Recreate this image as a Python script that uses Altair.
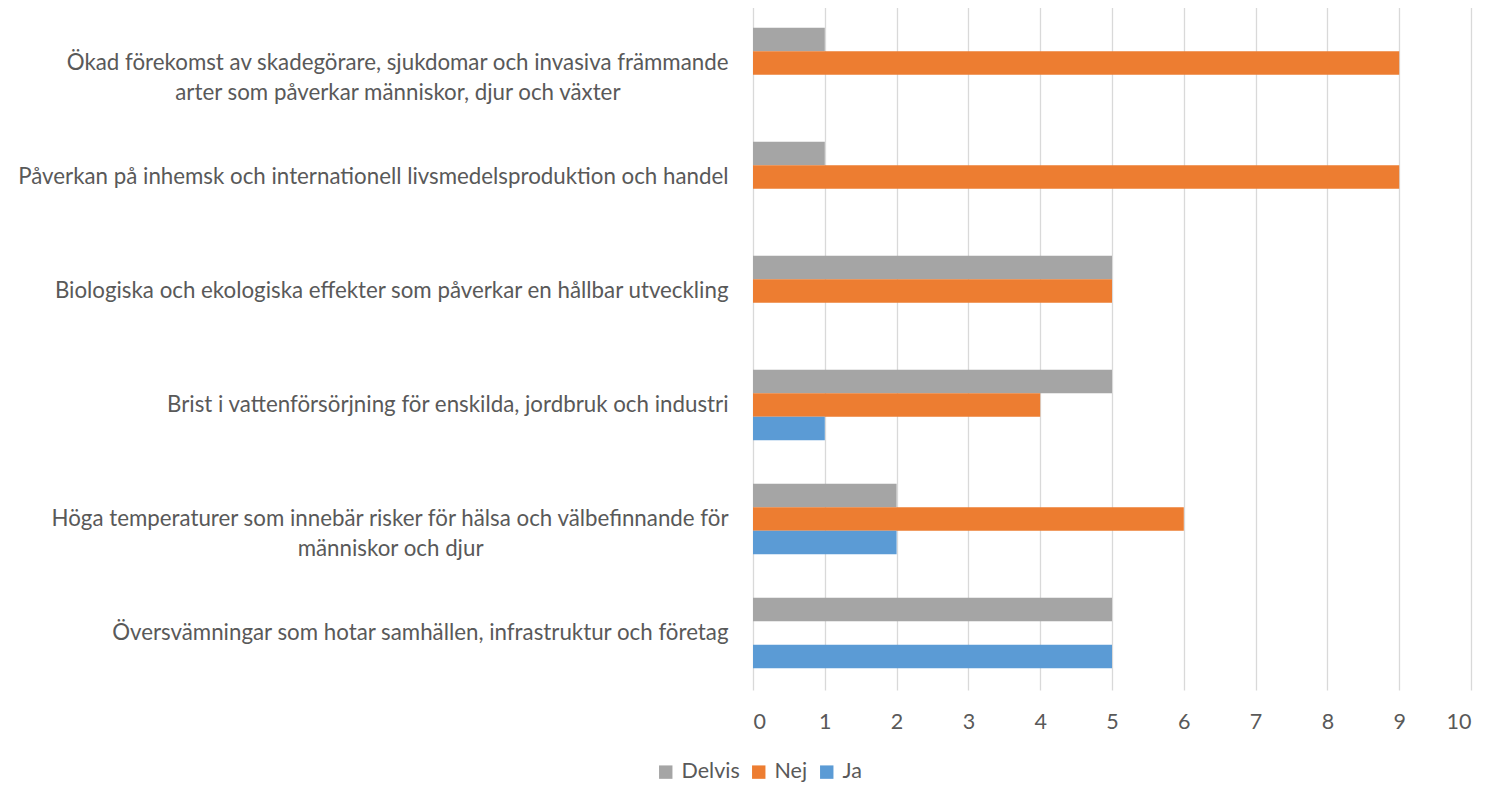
import altair as alt
import pandas as pd

categories = [
    "Ökad förekomst av skadegörare, sjukdomar och invasiva främmande|arter som påverkar människor, djur och växter",
    "Påverkan på inhemsk och internationell livsmedelsproduktion och handel",
    "Biologiska och ekologiska effekter som påverkar en hållbar utveckling",
    "Brist i vattenförsörjning för enskilda, jordbruk och industri",
    "Höga temperaturer som innebär risker för hälsa och välbefinnande för|människor och djur",
    "Översvämningar som hotar samhällen, infrastruktur och företag",
]
# trailing no-break spaces (kept by a zero-width space) so wrapped second lines sit centred
line_pad = [19, 0, 0, 0, 43, 0]
series = ["Delvis", "Nej", "Ja"]
delvis = [1, 1, 5, 5, 2, 5]
nej = [9, 9, 5, 4, 6, 0]
ja = [0, 0, 0, 1, 2, 5]
colors = ["#A5A5A5", "#ED7D31", "#5B9BD5"]

labels = [c + ("\u00a0" * p + "\u200b" if p else "") for c, p in zip(categories, line_pad)]

rows = []
for i, c in enumerate(labels):
    for s, vals in zip(series, [delvis, nej, ja]):
        rows.append({"cat": c, "serie": s, "value": vals[i]})
df = pd.DataFrame(rows)

FONT = "Lato"
TXT = "#595959"

chart = alt.Chart(df).mark_bar(strokeWidth=0).encode(
    y=alt.Y(
        "cat:N",
        sort=labels,
        title=None,
        scale=alt.Scale(paddingInner=0.38, paddingOuter=0.19),
        axis=alt.Axis(
            labelExpr="split(datum.label, '|')",
            labelAlign="right",
            labelPadding=25,
            labelFontSize=22.3,
            labelFont=FONT,
            labelColor=TXT,
            labelLineHeight=30,
            labelLimit=800,
            domain=False,
            ticks=False,
            grid=False,
        ),
    ),
    yOffset=alt.YOffset("serie:N", sort=series),
    x=alt.X(
        "value:Q",
        title=None,
        scale=alt.Scale(domain=[0, 10], nice=False),
        axis=alt.Axis(
            values=list(range(0, 11)),
            labelFontSize=21.5,
            labelFont=FONT,
            labelColor=TXT,
            labelPadding=21,
            domain=False,
            ticks=False,
            grid=True,
            gridColor="#D9D9D9",
            gridWidth=1.3,
        ),
    ),
    color=alt.Color(
        "serie:N",
        sort=series,
        scale=alt.Scale(domain=series, range=colors),
        legend=alt.Legend(
            title=None,
            orient="none",
            direction="horizontal",
            legendX=-98,
            legendY=755,
            symbolType="square",
            symbolSize=180,
            symbolStrokeWidth=0,
            labelFontSize=21.5,
            labelFont=FONT,
            labelColor=TXT,
            labelOffset=5,
            columnPadding=8,
        ),
    ),
).properties(
    width=718,
    height=684,
    autosize=alt.AutoSizeParams(type="none"),
    padding={"left": 745, "top": -2, "right": 12, "bottom": 92},
).configure_view(stroke=None)

chart.save("out.html", embed_options={"renderer": "svg", "actions": False})
